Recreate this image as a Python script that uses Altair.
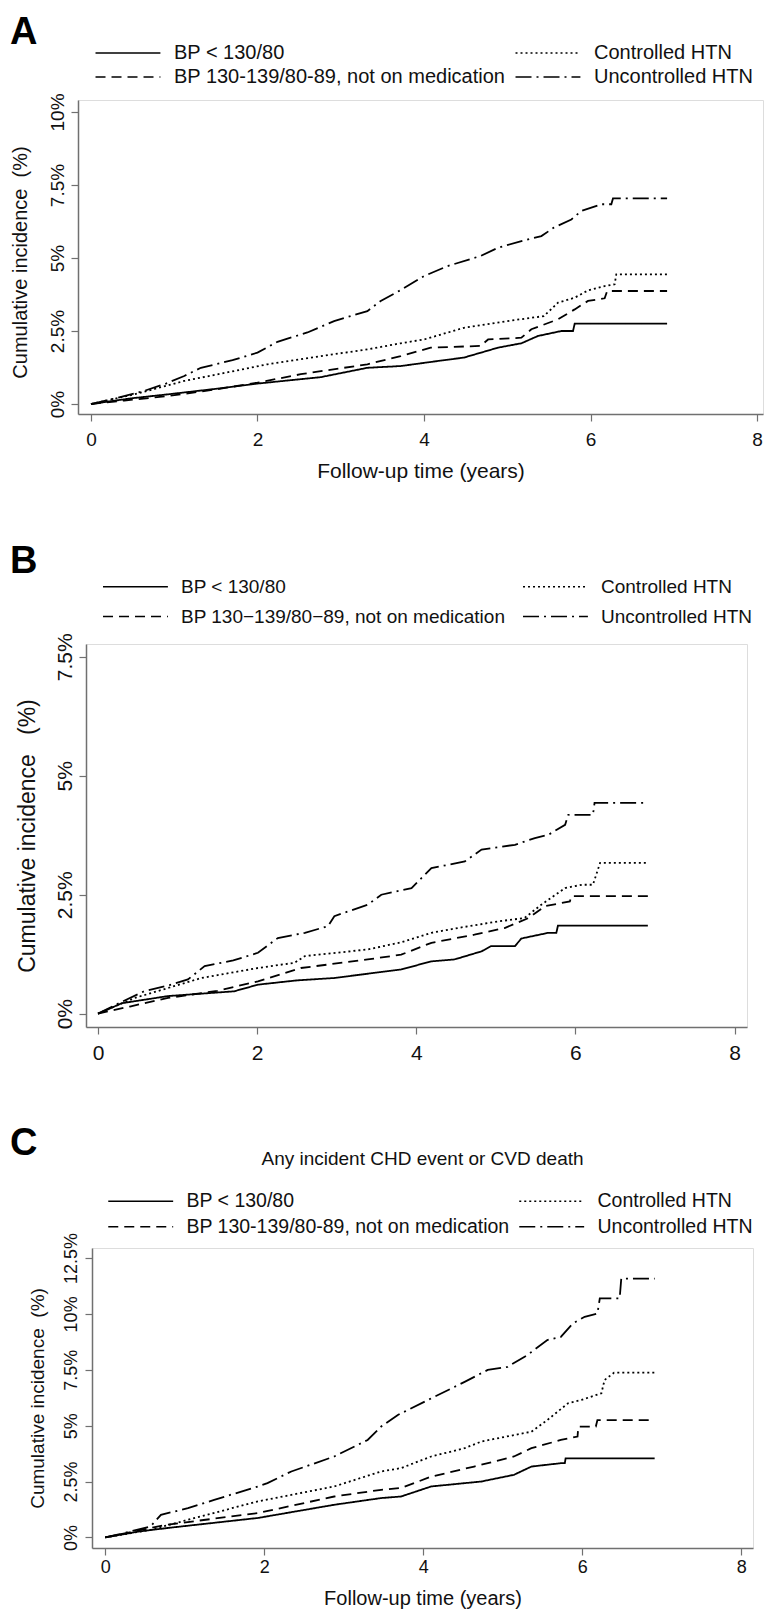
import altair as alt
import pandas as pd

FONT = "Liberation Sans, Arial, Helvetica, sans-serif"
INK = "#111111"
AXIS_GREY = "#707070"

# legend order: first column then second column
LABELS_A = ["BP < 130/80", "BP 130-139/80-89, not on medication", "Controlled HTN", "Uncontrolled HTN"]
LABELS_B = ["BP < 130/80", "BP 130\u2212139/80\u221289, not on medication", "Controlled HTN", "Uncontrolled HTN"]
LABELS_C = ["BP < 130/80", "BP 130-139/80-89, not on medication", "Controlled HTN", "Uncontrolled HTN"]
DASHES = [[1, 0], [10, 6], [2, 3], [16, 5, 2, 5]]
X_TICKS = [0, 2, 4, 6, 8]

# ---------------- Panel A (time in years, cumulative incidence in %) ----------------
a_norm_t = [0, 0.5, 0.92, 1.5, 2.0, 2.76, 3.32, 3.72, 4.16, 4.48, 4.89, 5.17, 5.37, 5.65, 5.79, 5.81, 6.92]
a_norm_y = [0, 0.2, 0.33, 0.52, 0.7, 0.92, 1.24, 1.3, 1.47, 1.59, 1.93, 2.08, 2.33, 2.5, 2.5, 2.75, 2.75]
a_ctrl_t = [0, 0.52, 1.12, 1.72, 2.12, 2.76, 3.32, 3.72, 4.0, 4.48, 5.0, 5.44, 5.61, 5.81, 5.97, 6.17, 6.29, 6.31, 6.92]
a_ctrl_y = [0, 0.33, 0.79, 1.13, 1.36, 1.64, 1.87, 2.08, 2.21, 2.61, 2.84, 3.01, 3.47, 3.64, 3.89, 4.04, 4.1, 4.44, 4.44]
a_elev_t = [0, 0.4, 0.92, 1.5, 2.0, 2.52, 3.32, 3.72, 4.08, 4.68, 4.77, 5.17, 5.29, 5.61, 5.81, 5.97, 6.17, 6.2, 6.92]
a_elev_y = [0, 0.12, 0.27, 0.5, 0.73, 1.02, 1.36, 1.64, 1.93, 1.99, 2.21, 2.27, 2.56, 2.9, 3.24, 3.53, 3.62, 3.87, 3.87]
a_unc_t = [0, 0.3, 0.64, 0.9, 1.12, 1.32, 1.7, 2.0, 2.24, 2.6, 2.92, 3.32, 3.48, 3.72, 4.0, 4.28, 4.68, 4.89,
           5.17, 5.41, 5.56, 5.77, 5.89, 6.13, 6.25, 6.27, 6.92]
a_unc_y = [0, 0.2, 0.45, 0.7, 0.96, 1.24, 1.5, 1.76, 2.13, 2.45, 2.84, 3.18, 3.53, 3.9, 4.38, 4.72, 5.07, 5.35,
           5.58, 5.75, 6.04, 6.32, 6.61, 6.84, 6.84, 7.04, 7.04]

# ---------------- Panel B ----------------
b_norm_t = [0, 0.3, 0.88, 1.71, 2.01, 2.5, 2.97, 3.81, 4.19, 4.48, 4.82, 4.94, 5.24, 5.32, 5.66, 5.76, 5.78, 6.91]
b_norm_y = [0, 0.22, 0.37, 0.47, 0.61, 0.7, 0.75, 0.93, 1.1, 1.14, 1.31, 1.42, 1.42, 1.58, 1.7, 1.7, 1.85, 1.85]
b_ctrl_t = [0, 0.46, 0.9, 1.3, 2.01, 2.47, 2.6, 3.39, 3.81, 4.19, 4.52, 5.03, 5.36, 5.57, 5.87, 6.08, 6.22, 6.31, 6.91]
b_ctrl_y = [0, 0.33, 0.55, 0.75, 0.96, 1.07, 1.21, 1.35, 1.5, 1.7, 1.8, 1.94, 2.01, 2.29, 2.64, 2.71, 2.71, 3.17, 3.17]
b_elev_t = [0, 0.4, 0.88, 1.5, 2.01, 2.55, 3.39, 3.81, 4.19, 4.73, 5.11, 5.41, 5.62, 5.93, 5.95, 6.91]
b_elev_y = [0, 0.15, 0.33, 0.48, 0.68, 0.96, 1.14, 1.24, 1.49, 1.66, 1.8, 2.01, 2.26, 2.36, 2.47, 2.47]
b_unc_t = [0, 0.3, 0.58, 0.9, 1.13, 1.34, 1.7, 2.01, 2.26, 2.6, 2.89, 2.97, 3.39, 3.56, 3.94, 4.19, 4.61, 4.82,
           5.24, 5.49, 5.66, 5.87, 5.91, 6.22, 6.24, 6.91]
b_unc_y = [0, 0.25, 0.47, 0.6, 0.72, 1.0, 1.12, 1.28, 1.59, 1.7, 1.84, 2.05, 2.29, 2.5, 2.64, 3.06, 3.2, 3.45,
           3.55, 3.69, 3.76, 3.97, 4.18, 4.18, 4.43, 4.43]

# ---------------- Panel C ----------------
c_norm_t = [0, 0.4, 0.78, 1.92, 2.88, 3.47, 3.72, 4.1, 4.73, 5.14, 5.36, 5.73, 5.78, 5.79, 6.91]
c_norm_y = [0, 0.25, 0.42, 0.87, 1.46, 1.76, 1.83, 2.28, 2.5, 2.8, 3.17, 3.32, 3.32, 3.54, 3.54]
c_ctrl_t = [0, 0.57, 1.2, 1.92, 2.88, 3.47, 3.72, 4.1, 4.52, 4.73, 5.36, 5.56, 5.82, 5.99, 6.24, 6.28, 6.4, 6.91]
c_ctrl_y = [0, 0.34, 0.94, 1.61, 2.28, 2.95, 3.1, 3.62, 3.99, 4.29, 4.73, 5.25, 6.0, 6.15, 6.45, 7.04, 7.37, 7.37]
c_elev_t = [0, 0.4, 0.78, 1.92, 2.88, 3.47, 3.72, 4.1, 4.64, 5.14, 5.36, 5.73, 5.94, 5.95, 6.17, 6.19, 6.91]
c_elev_y = [0, 0.3, 0.57, 1.09, 1.83, 2.13, 2.21, 2.72, 3.17, 3.62, 3.99, 4.36, 4.51, 4.96, 4.96, 5.25, 5.25]
c_unc_t = [0, 0.3, 0.57, 0.7, 1.04, 1.37, 1.92, 2.04, 2.34, 2.88, 3.3, 3.47, 3.68, 4.1, 4.52, 4.81, 5.06, 5.31,
           5.56, 5.73, 5.88, 6.03, 6.19, 6.22, 6.47, 6.49, 6.91]
c_unc_y = [0, 0.25, 0.49, 1.01, 1.31, 1.68, 2.28, 2.43, 2.95, 3.62, 4.36, 4.96, 5.48, 6.22, 6.96, 7.49, 7.63, 8.16,
           8.83, 8.97, 9.57, 9.87, 10.02, 10.69, 10.69, 11.58, 11.58]


def make_df(labels, series):
    rows = []
    for lab, (ts, ys) in zip(labels, series):
        for k, (t, v) in enumerate(zip(ts, ys)):
            rows.append({"t": t, "ci": v, "grp": lab, "k": k})
    return pd.DataFrame(rows)


def panel(df, labels, letter, p):
    w, h = p["w"], p["h"]
    x_axis = dict(values=X_TICKS, grid=False, tickSize=7, tickColor=AXIS_GREY, tickWidth=1.2,
                  domainColor=AXIS_GREY, domainWidth=1.5, labelPadding=p["xpad"],
                  labelFont=FONT, labelFontSize=p["xfs"], labelColor=INK, format="d")
    if p.get("xtitle"):
        x_axis.update(title=p["xtitle"], titleFont=FONT, titleFontSize=p["xtfs"], titleFontWeight="normal",
                      titleColor=INK, titleY=p["xtitleY"], titleBaseline="alphabetic")
    else:
        x_axis.update(title=None)
    y_axis = dict(values=p["yticks"], labelExpr="datum.value + '%'", grid=False, tickSize=7,
                  tickColor=AXIS_GREY, tickWidth=1.2, domainColor=AXIS_GREY, domainWidth=1.5,
                  labelAngle=270, labelAlign="center", labelBaseline="alphabetic", labelPadding=p["ypad"],
                  labelFont=FONT, labelFontSize=p["yfs"], labelColor=INK,
                  title=p["ytitle"], titleFont=FONT, titleFontSize=p["ytfs"], titleFontWeight="normal",
                  titleColor=INK, titleAngle=270, titleAlign="center", titleBaseline="alphabetic",
                  titleX=p["ytitleX"], titleY=h / 2 + p.get("ytitleDY", 0))
    legend = alt.Legend(title=None, orient="none", legendX=p["legX"], legendY=p["legY"], columns=2,
                        columnPadding=p["colpad"], rowPadding=p["rowpad"], symbolType="M-11,0H1",
                        symbolSize=117, symbolStrokeWidth=1.5, symbolStrokeColor="black",
                        symbolFillColor="transparent", labelFont=FONT, labelFontSize=p["legfs"],
                        labelColor=INK, labelOffset=p["laboff"], labelLimit=600, padding=0)
    lines = alt.Chart(df).mark_line(color="black", strokeWidth=1.8).encode(
        x=alt.X("t:Q", scale=alt.Scale(domain=p["xdom"], nice=False, zero=False), axis=alt.Axis(**x_axis)),
        y=alt.Y("ci:Q", scale=alt.Scale(domain=p["ydom"], nice=False, zero=False), axis=alt.Axis(**y_axis)),
        strokeDash=alt.StrokeDash("grp:N", scale=alt.Scale(domain=labels, range=DASHES), legend=legend),
        order="k:Q",
    )
    let = alt.Chart(pd.DataFrame({"s": [letter]})).mark_text(
        font=FONT, fontSize=38, fontWeight="bold", color="black", align="left", baseline="alphabetic"
    ).encode(text="s:N", x=alt.value(p["letX"]), y=alt.value(p["letY"]))
    layers = [lines, let]
    if p.get("title"):
        ttl = alt.Chart(pd.DataFrame({"s": [p["title"]]})).mark_text(
            font=FONT, fontSize=p["titlefs"], color=INK, align="center", baseline="alphabetic"
        ).encode(text="s:N", x=alt.value(w / 2), y=alt.value(p["titleY"]))
        layers.append(ttl)
    return alt.layer(*layers).properties(width=w, height=h)


def spacer():
    return alt.Chart(pd.DataFrame({"v": [0]})).mark_point(size=0, opacity=0, strokeWidth=0).properties(
        width=1, height=1)


PA = dict(w=685, h=314, xdom=[-0.156, 8.072], ydom=[-0.342, 10.41], yticks=[0, 2.5, 5, 7.5, 10],
          xpad=9, xfs=19, xtitle="Follow-up time (years)", xtfs=21, xtitleY=63,
          ypad=8, yfs=19, ytitle="Cumulative incidence\u00a0 (%)", ytfs=20, ytitleX=-52, ytitleDY=5,
          legX=67, legY=-57, colpad=6, rowpad=4, legfs=20, laboff=9, letX=-68, letY=-56)
PB = dict(w=661, h=383, xdom=[-0.151, 8.156], ydom=[-0.28, 7.77], yticks=[0, 2.5, 5, 7.5],
          xpad=8, xfs=21, ypad=8, yfs=21, ytitle="Cumulative incidence\u00a0\u00a0 (%)", ytfs=23, ytitleX=-52,
          legX=67, legY=-67, colpad=14, rowpad=10, legfs=19, laboff=9, letX=-76, letY=-71)
PC = dict(w=661, h=300, xdom=[-0.167, 8.147], ydom=[-0.474, 12.947], yticks=[0, 2.5, 5, 7.5, 10, 12.5],
          xpad=3, xfs=18, xtitle="Follow-up time (years)", xtfs=20, xtitleY=56,
          ypad=9, yfs=18, ytitle="Cumulative incidence\u00a0 (%)", ytfs=19, ytitleX=-49,
          legX=66, legY=-57, colpad=6, rowpad=5, legfs=19.5, laboff=9, letX=-82, letY=-93,
          title="Any incident CHD event or CVD death", titlefs=19, titleY=-83)

df_a = make_df(LABELS_A, [(a_norm_t, a_norm_y), (a_elev_t, a_elev_y), (a_ctrl_t, a_ctrl_y), (a_unc_t, a_unc_y)])
df_b = make_df(LABELS_B, [(b_norm_t, b_norm_y), (b_elev_t, b_elev_y), (b_ctrl_t, b_ctrl_y), (b_unc_t, b_unc_y)])
df_c = make_df(LABELS_C, [(c_norm_t, c_norm_y), (c_elev_t, c_elev_y), (c_ctrl_t, c_ctrl_y), (c_unc_t, c_unc_y)])


def row(pnl):
    return alt.hconcat(spacer(), pnl, spacing=0).resolve_scale(
        x="independent", y="independent", strokeDash="independent"
    ).resolve_legend(strokeDash="independent")


chart = alt.vconcat(
    row(panel(df_a, LABELS_A, "A", PA)),
    row(panel(df_b, LABELS_B, "B", PB)),
    row(panel(df_c, LABELS_C, "C", PC)),
    spacing=60,
).resolve_scale(x="independent", y="independent", strokeDash="independent").resolve_legend(
    strokeDash="independent"
).properties(padding={"left": 0, "top": 5, "right": 0, "bottom": 0}).configure_view(
    stroke=None).configure(background="white")

chart.save("out.html", embed_options={"renderer": "svg", "actions": False})
